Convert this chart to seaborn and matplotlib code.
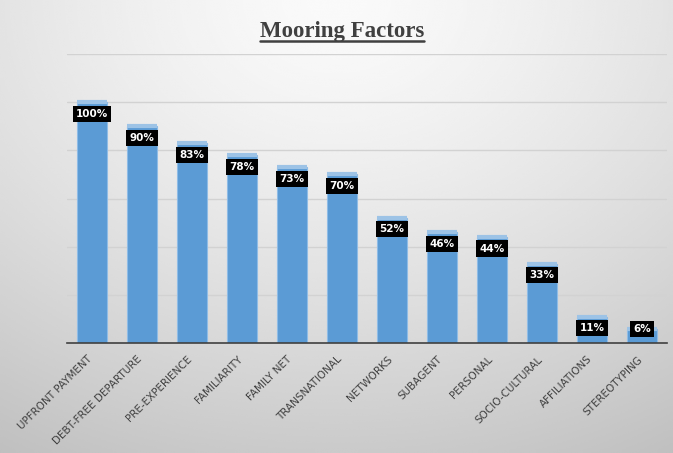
import numpy as np
import pandas as pd
import matplotlib
matplotlib.use("Agg")
import matplotlib.pyplot as plt
import matplotlib.transforms as mtransforms
import seaborn as sns

# Mooring factor shares
factors = ["UPFRONT PAYMENT", "DEBT-FREE DEPARTURE", "PRE-EXPERIENCE", "FAMILIARITY",
           "FAMILY NET", "TRANSNATIONAL", "NETWORKS", "SUBAGENT", "PERSONAL",
           "SOCIO-CULTURAL", "AFFILIATIONS", "STEREOTYPING"]
shares = [1.00, 0.90, 0.83, 0.78, 0.73, 0.70, 0.52, 0.46, 0.44, 0.33, 0.11, 0.06]
title = "Mooring Factors"

df = pd.DataFrame({"factor": factors, "share": shares})

sns.set_theme(style="white")
plt.rcParams["font.family"] = ["DejaVu Sans"]

fig = plt.figure(figsize=(6.73, 4.53), dpi=100)

# soft radial gray backdrop
bg = fig.add_axes([0, 0, 1, 1], zorder=-10)
yy, xx = np.mgrid[0:1:300j, 0:1:450j]
r = np.sqrt(((xx - 0.5) / 0.9) ** 2 + (yy / 1.05) ** 2)
shade = 0.98 - 0.2 * np.clip(r, 0, 1.2) ** 1.4
bg.imshow(shade, cmap="gray", vmin=0, vmax=1, aspect="auto",
          extent=[0, 1, 1, 0], interpolation="bicubic")
bg.set_axis_off()

ax = fig.add_axes([0.0996, 0.2428, 0.8915, 0.638])
ax.set_facecolor("none")

sns.barplot(data=df, x="factor", y="share", color="#5B9BD5", saturation=1,
            width=0.6, edgecolor="#8FBCE6", linewidth=0.8, ax=ax, zorder=2)

xs = np.arange(len(shares))
ax.hlines(shares, xs - 0.3, xs + 0.3, color="#9DC3E6", lw=3, zorder=3)

for x, v in zip(xs, shares):
    ypos = max(v - 0.048, 0.058)
    ax.text(x, ypos, f"{int(round(v * 100))}%", ha="center", va="center",
            color="white", fontsize=7.5, fontweight="bold", zorder=5,
            bbox=dict(boxstyle="square,pad=0.3", fc="black", ec="none"))

ax.set_ylim(0, 1.2)
ax.set_xlim(-0.5, len(shares) - 0.5)
ax.set_yticks([0.2, 0.4, 0.6, 0.8, 1.0, 1.2])
ax.yaxis.grid(True, color="#d2d2d2", lw=1.0, zorder=0)
ax.set_axisbelow(True)
ax.tick_params(axis="y", left=False, labelleft=False)
ax.tick_params(axis="x", bottom=False, pad=2)
ax.set_xlabel("")
ax.set_ylabel("")
for s in ["top", "right", "left"]:
    ax.spines[s].set_visible(False)
ax.spines["bottom"].set_color("#404040")
ax.spines["bottom"].set_linewidth(1.2)
ax.set_xticks(xs)
ax.set_xticklabels(factors, rotation=45, ha="right", rotation_mode="anchor",
                   fontsize=7.5, color="#404040")
shift = mtransforms.ScaledTranslation(-5 / 100, 0, fig.dpi_scale_trans)
for lab in ax.get_xticklabels():
    lab.set_transform(lab.get_transform() + shift)

t = fig.text(0.508, 0.93, title, ha="center", va="center", fontsize=16.5,
             fontweight="bold", color="#404040", family="Liberation Serif")
# underline beneath the title
fig.canvas.draw()
bb = t.get_window_extent()
inv = fig.transFigure.inverted()
(x0, y0), (x1, y1) = inv.transform([[bb.x0, bb.y0], [bb.x1, bb.y1]])
fig.add_artist(plt.Line2D([x0, x1], [y0 + 0.002, y0 + 0.002], color="#404040",
                          lw=1.8, transform=fig.transFigure))

fig.savefig("out.png", dpi=100)
